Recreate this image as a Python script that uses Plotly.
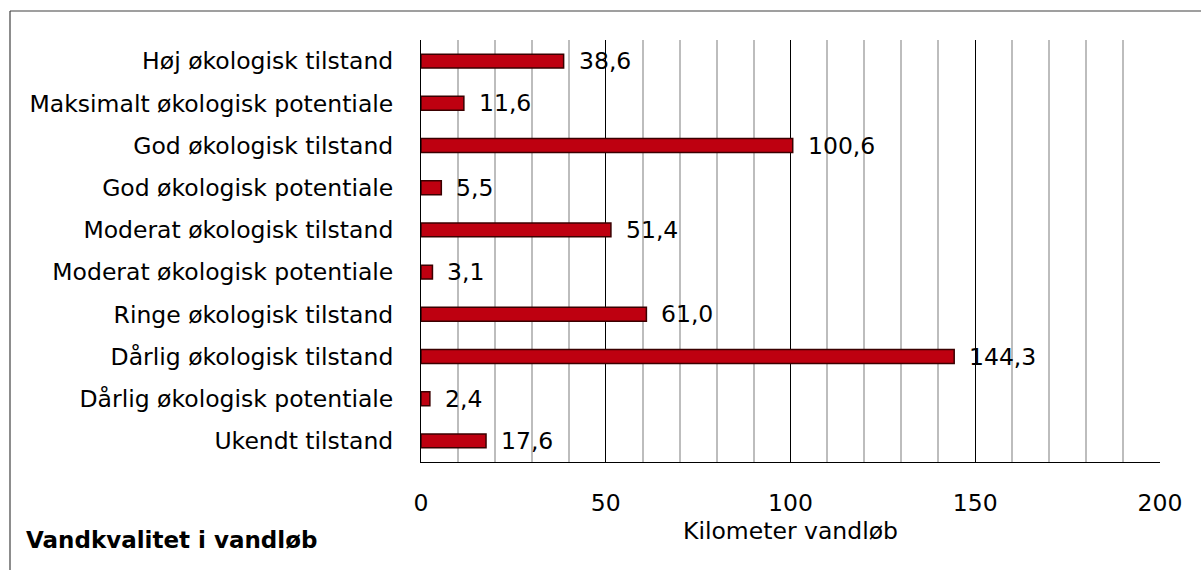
import plotly.graph_objects as go

categories = [
    "Høj økologisk tilstand",
    "Maksimalt økologisk potentiale",
    "God økologisk tilstand",
    "God økologisk potentiale",
    "Moderat økologisk tilstand",
    "Moderat økologisk potentiale",
    "Ringe økologisk tilstand",
    "Dårlig økologisk tilstand",
    "Dårlig økologisk potentiale",
    "Ukendt tilstand",
]
values = [38.6, 11.6, 100.6, 5.5, 51.4, 3.1, 61.0, 144.3, 2.4, 17.6]
labels = [f"{v:.1f}".replace(".", ",") for v in values]

FONT = "DejaVu Sans"
FS = 23.5
W, H = 1201, 570
L, T = 421, 40
R = W - 1160
B = H - 462
pw, ph = W - L - R, H - T - B


def px_x(px):
    return (px - L) / pw


def px_y(px):
    return (H - B - px) / ph


fig = go.Figure()
fig.add_trace(go.Bar(
    y=categories, x=values, orientation="h",
    marker=dict(color="#BE0010", line=dict(color="#3a0000", width=1.5)),
    width=0.33, hoverinfo="skip",
))
for c, v, t in zip(categories, values, labels):
    fig.add_annotation(x=v, y=c, text=t, showarrow=False, xanchor="left",
                       xshift=13, font=dict(family=FONT, size=FS, color="black"))

border = dict(color="#404040", width=1.2)
fig.add_shape(type="line", xref="paper", yref="paper",
              x0=px_x(10), x1=px_x(W + 40), y0=px_y(11), y1=px_y(11),
              line=border, layer="above")
fig.add_shape(type="line", xref="paper", yref="paper",
              x0=px_x(10), x1=px_x(10), y0=px_y(11), y1=px_y(H + 40),
              line=border, layer="above")
fig.add_annotation(xref="paper", yref="paper", x=px_x(24), y=px_y(540),
                   text="<b>Vandkvalitet i vandløb</b>", showarrow=False,
                   xanchor="left", yanchor="middle",
                   font=dict(family=FONT, size=FS - 0.5, color="black"))

fig.update_layout(
    width=W, height=H,
    margin=dict(l=L, r=R, t=T, b=B, autoexpand=False),
    plot_bgcolor="white", paper_bgcolor="white",
    showlegend=False,
    font=dict(family=FONT, size=FS, color="black"),
    xaxis=dict(
        range=[0, 200], dtick=50, tick0=0,
        showgrid=True, gridcolor="black", gridwidth=1,
        minor=dict(dtick=10, showgrid=True, gridcolor="#BDBDBD", gridwidth=2),
        showline=True, linecolor="black", linewidth=1,
        zeroline=False,
        ticks="", ticklabelstandoff=20,
        tickfont=dict(family=FONT, size=FS),
        title=dict(text="Kilometer vandløb", font=dict(family=FONT, size=FS), standoff=4),
        fixedrange=True,
    ),
    yaxis=dict(
        categoryorder="array", categoryarray=categories[::-1],
        autorange=True,
        showline=True, linecolor="black", linewidth=1,
        showgrid=False, ticks="", ticklabelstandoff=22,
        tickfont=dict(family=FONT, size=FS),
        fixedrange=True,
    ),
)
fig.write_html(
    "out.html",
    config={"displayModeBar": False},
    post_script=(
        "document.documentElement.style.margin='0';"
        "document.body.style.margin='0';"
        "document.documentElement.style.overflow='hidden';"
        "document.body.style.overflow='hidden';"
    ),
)
